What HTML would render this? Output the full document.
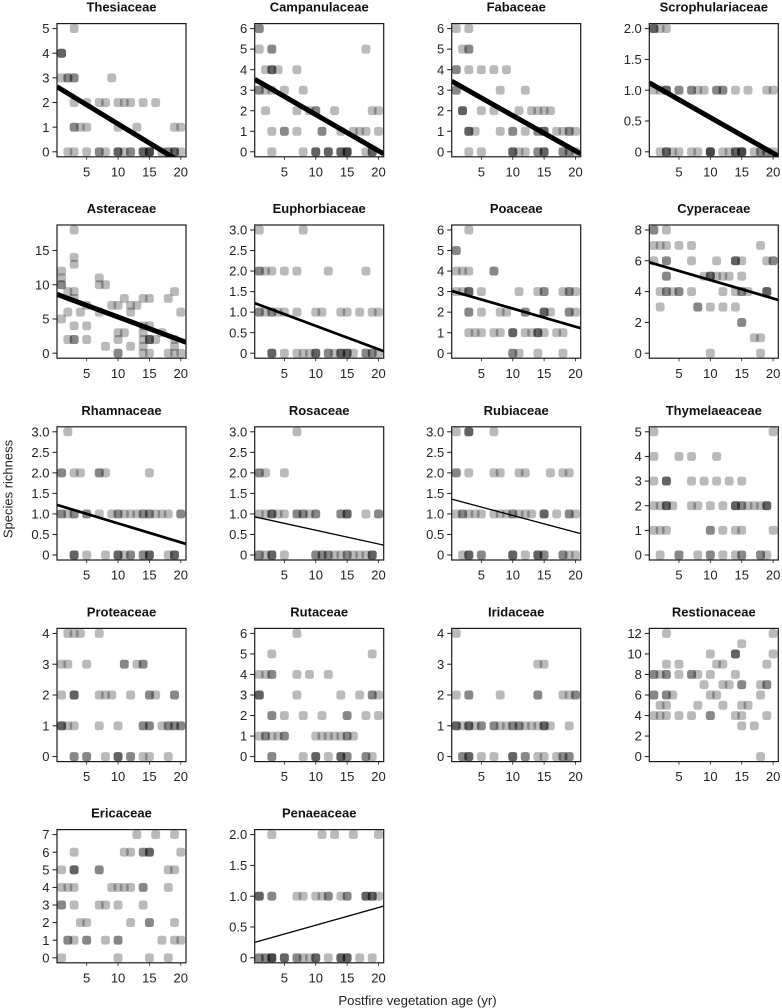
<!DOCTYPE html>
<html lang="en">
<head>
<meta charset="utf-8">
<title>Species richness by postfire vegetation age</title>
<style>
html,body{margin:0;padding:0;background:#fff;}
svg{display:block;font-family:"Liberation Sans",Arial,sans-serif;fill:#222;}
</style>
</head>
<body>
<svg id="chart" width="782" height="1008" viewBox="0 0 782 1008" xmlns="http://www.w3.org/2000/svg">
<text transform="translate(12.5 489) rotate(-90)" text-anchor="middle" font-size="13">Species richness</text>
<text x="417.5" y="1005" text-anchor="middle" font-size="13.2">Postfire vegetation age (yr)</text>
</svg>
<script>
// Panel titles
const families = ["Thesiaceae","Campanulaceae","Fabaceae","Scrophulariaceae","Asteraceae","Euphorbiaceae","Poaceae","Cyperaceae","Rhamnaceae","Rosaceae","Rubiaceae","Thymelaeaceae","Proteaceae","Rutaceae","Iridaceae","Restionaceae","Ericaceae","Penaeaceae"];

// Y-axis maximum of each panel
const yMaxima = [5,6,6,2,18,3,6,8,3,3,3,5,4,6,4,12,7,2];

// Y tick values of each panel
const yTickValues = [
 [0,1,2,3,4,5],[0,1,2,3,4,5,6],[0,1,2,3,4,5,6],[0,0.5,1,1.5,2],
 [0,5,10,15],[0,0.5,1,1.5,2,2.5,3],[0,1,2,3,4,5,6],[0,2,4,6,8],
 [0,0.5,1,1.5,2,2.5,3],[0,0.5,1,1.5,2,2.5,3],[0,0.5,1,1.5,2,2.5,3],[0,1,2,3,4,5],
 [0,1,2,3,4],[0,1,2,3,4,5,6],[0,1,2,3,4],[0,2,4,6,8,10,12],
 [0,1,2,3,4,5,6,7],[0,0.5,1,1.5,2]
];

// X tick values shared by all panels
const xTickValues = [5,10,15,20];

// Trend lines: fitted richness at the left and right edge of each panel (null = no trend)
const trendLeft  = [2.64,3.53,3.44,1.12,8.6,1.22,3.03,5.9,1.22,0.93,1.36,null,null,null,null,null,null,0.25];
const trendRight = [-0.55,-0.1,-0.1,-0.07,1.6,0.05,1.22,3.46,0.27,0.24,0.52,null,null,null,null,null,null,0.84];

// Trend line weight class: 3 = strongest, 1 = weakest
const trendWeight = [3,3,3,3,3,2,2,2,2,1,1,0,0,0,0,0,0,1];

// Sites per family: index = species richness, entries = vegetation age of each site (repeats = overlapping sites)
const thesiaceaeSites = [
 [2,3,5,7,7,8,10,10,10,11,12,12,14,14,14,15,15,15,15,17,18,18,19,19,19,20],
 [3,3,4,5,10,13,19,20],
 [3,5,7,8,10,11,12,14,16],
 [1,2,2,3,3,9],
 [1,1,1],
 [3]];
const campanulaceaeSites = [
 [3,8,10,10,10,12,12,12,14,14,14,15,15,15,15,18,19,19,19],
 [3,5,5,7,11,11,14,16,17,18,20],
 [2,7,9,10,10,13,19,20],
 [1,1,2,3,5,8],
 [2,3,3,3,4,7],
 [1,3,3,18],
 [1,1]];
const fabaceaeSites = [
 [3,5,10,10,10,11,12,14,14,15,15,15,18,18,19,19,20],
 [3,3,3,4,8,10,10,12,14,14,15,15,15,17,18,19,19,20],
 [2,2,2,5,7,11,13,14,15,16],
 [1,1,8,12],
 [1,1,3,5,7,9],
 [2,3,3],
 [1,3]];
const scrophulariaceaeSites = [
 [2,3,3,3,4,5,7,8,10,10,10,10,12,13,14,14,14,15,15,15,15,17,18,18,19,19,20],
 [1,2,3,3,3,5,5,7,7,8,9,11,11,12,12,14,16,19,20],
 [1,1,1,2,3]];
const asteraceaeSites = [
 [10,10,14,15,18,19,20],
 [8,12,14,19],
 [2,3,3,5,10,14,15,15,15,16,19],
 [10,11,14,17],
 [3,5,14,15],
 [1],
 [2,4,7,12,20],
 [5,9,10,12,13],
 [3,11,14,15,18],
 [2,3,19],
 [1,1,7,8],
 [1,7],
 [1],
 [3],
 [3],
 [],[],[],
 [3]];
const euphorbiaceaeSites = [
 [3,3,3,5,7,8,9,10,10,10,12,12,13,14,14,14,15,15,15,16,18,18,19,19,20],
 [1,1,2,3,3,4,5,7,10,11,14,15,17,19,20],
 [1,1,2,3,5,7,12,18],
 [1,8]];
const poaceaeSites = [
 [10,10,11,14,18],
 [3,4,5,7,8,10,10,10,12,13,14,14,14,15,17,18],
 [3,3,5,8,9,12,12,15,15,15,16,19,19,20],
 [1,2,3,3,3,5,11,14,15,15,18,19,19,20],
 [1,2,3,7,7],
 [1,1],
 [3]];
const cyperaceaeSites = [
 [10,18],
 [17,18],
 [15,15],
 [2,8,8,10,12,14],
 [2,3,3,4,5,5,7,12,14,15,15,16,19,19,19],
 [3,3,9,10,10,10,11,12,13,15],
 [1,3,3,7,11,14,14,14,15,19,20,20],
 [1,2,3,5,7,18],
 [1,1,3]];
const rhamnaceaeSites = [
 [3,3,3,5,8,10,10,10,11,12,12,14,14,15,15,15,18,19,19,19],
 [1,1,2,3,3,5,5,7,9,10,10,11,12,13,14,14,15,15,16,17,18,20,20],
 [1,1,3,4,7,7,8,15],
 [2]];
const rosaceaeSites = [
 [1,1,2,3,3,3,5,10,10,11,11,12,12,13,14,15,15,16,17,18,19,19,19],
 [1,2,3,3,3,4,5,7,7,8,8,9,10,10,14,14,15,15,15,18,20,20],
 [1,1,2,5],
 [7]];
const rubiaceaeSites = [
 [2,3,3,3,5,5,10,10,10,12,14,14,14,15,15,18,18,19,20],
 [1,2,2,3,4,5,7,8,9,10,10,11,12,13,15,15,15,17,19,19,20],
 [1,1,3,7,8,11,12,16,18,19],
 [1,3,3,3,7]];
const thymelaeaceaeSites = [
 [2,5,5,8,10,10,12,14,15,15,18,18,19],
 [1,2,3,10,10,12,14,15,20],
 [1,2,3,3,3,4,7,8,10,12,14,14,14,15,15,16,17,18,19,19,19],
 [1,3,3,3,7,9,11,13,15],
 [1,5,7,11],
 [1,20]];
const proteaceaeSites = [
 [3,3,5,5,8,10,10,10,12,12,14,15,18],
 [1,1,1,2,3,7,10,14,14,15,15,17,18,18,19,19,20,20],
 [1,3,3,3,7,8,9,12,15,15,16,19,19],
 [1,2,5,11,11,13,14,14],
 [2,3,4,7]];
const rutaceaeSites = [
 [3,3,8,10,10,10,12,14,14,14,15,15,18,18,19],
 [1,2,2,3,4,5,5,10,11,12,13,14,15,15,16],
 [3,3,5,8,11,15,15,18,20],
 [1,1,1,7,14,17,19,19,20],
 [1,2,3,3,7,9,12],
 [3,19],
 [7]];
const iridaceaeSites = [
 [2,2,3,3,3,5,7,10,10,10,12,12,14,15,17,18,18,19,19],
 [1,1,1,2,3,3,3,4,5,5,7,7,8,9,10,10,11,11,12,13,14,15,15,15,16,19],
 [1,3,3,8,14,14,18,19,20,20],
 [14,15],
 [1]];
const restionaceaeSites = [
 [18],
 [],
 [],
 [15,17],
 [1,2,3,5,7,10,10,14,15,19],
 [2,3,8,12,15,16],
 [1,1,3,3,4,10,11,18],
 [9,12,13,15,15,18,19,19],
 [1,1,2,3,3,5,7,7,8,10,14],
 [3,5,11,12,19],
 [10,14,14,14,20],
 [15],
 [3,20]];
const ericaceaeSites = [
 [1,10,15,18],
 [2,2,3,5,5,8,10,10,17,19,20],
 [4,5,12,15,15,19],
 [1,1,3,7,8,10,14],
 [1,2,3,9,10,11,12,14,14,18],
 [1,3,3,3,7,7,18,19],
 [3,11,12,14,14,15,15,15,20],
 [13,16,19]];
const penaeaceaeSites = [
 [1,1,2,2,3,3,3,3,5,5,5,7,7,8,9,10,10,10,12,14,14,14,15,15,15,17,19],
 [1,1,1,3,3,7,8,10,11,12,12,14,15,15,18,18,18,19,19,19,20],
 [3,11,13,16,20]];

const allSites = [thesiaceaeSites,campanulaceaeSites,fabaceaeSites,scrophulariaceaeSites,asteraceaeSites,euphorbiaceaeSites,poaceaeSites,cyperaceaeSites,rhamnaceaeSites,rosaceaeSites,rubiaceaeSites,thymelaeaceaeSites,proteaceaeSites,rutaceaeSites,iridaceaeSites,restionaceaeSites,ericaceaeSites,penaeaceaeSites];

// Layout
const NS = "http://www.w3.org/2000/svg";
const svg = document.getElementById("chart");
const colLefts = [57, 254.7, 451.7, 649.3];
const rowTops = [23.6, 225, 426.8, 628.4, 829.6];
const panelW = 129, panelH = 133.2, inset = 5;
const xMin = 0.27, xMax = 20.83;
const pointSize = 8.9;
const lineWidths = [0, 1.3, 2.7, 5];

function make(tag, attrs, parent) {
  const el = document.createElementNS(NS, tag);
  for (const k in attrs) el.setAttribute(k, attrs[k]);
  parent.appendChild(el);
  return el;
}
function slug(s) { return s.toLowerCase(); }

const defs = make("defs", {}, svg);

families.forEach(function (name, i) {
  const left = colLefts[i % 4];
  const top = rowTops[Math.floor(i / 4)];
  const bottom = top + panelH;
  const xScale = function (v) { return left + (v - xMin) / (xMax - xMin) * panelW; };
  const yScale = function (v) { return bottom - inset - v / yMaxima[i] * (panelH - 2 * inset); };

  const group = make("g", {}, svg);
  
  

  const clip = make("clipPath", { id: "clip" + i }, defs);
  make("rect", { x: left, y: top, width: panelW, height: panelH }, clip);

  const title = make("text", { x: left + panelW / 2, y: top - 12, "text-anchor": "middle", "font-size": 13, "font-weight": "bold", fill: "#111" }, group);
  
  
  title.textContent = name;

  const marks = make("g", { "clip-path": "url(#clip" + i + ")" }, group);
  
  

  allSites[i].forEach(function (ages, richness) {
    ages.forEach(function (age) {
      const pt = make("rect", {
        x: xScale(age) - pointSize / 2,
        y: yScale(richness) - pointSize / 2,
        width: pointSize, height: pointSize, rx: 2.6, ry: 2.6,
        fill: "#000", "fill-opacity": 0.27
      }, marks);
      
      
    });
  });

  if (trendLeft[i] !== null) {
    const trend = make("line", {
      x1: left, y1: yScale(trendLeft[i]),
      x2: left + panelW, y2: yScale(trendRight[i]),
      stroke: "#000", "stroke-width": lineWidths[trendWeight[i]]
    }, marks);
    
    
  }

  const frame = make("rect", { x: left, y: top, width: panelW, height: panelH, fill: "none", stroke: "#1a1a1a", "stroke-width": 1.2 }, group);
  
  

  yTickValues[i].forEach(function (v) {
    const y = yScale(v);
    const tick = make("line", { x1: left - 4.5, x2: left, y1: y, y2: y, stroke: "#1a1a1a", "stroke-width": 1 }, group);
    
    
    const label = make("text", { x: left - 7.5, y: y + 4.6, "text-anchor": "end", "font-size": 13 }, group);
    
    
    label.textContent = (yMaxima[i] <= 3 && v !== 0) ? v.toFixed(1) : String(v);
  });

  xTickValues.forEach(function (v) {
    const x = xScale(v);
    const tick = make("line", { x1: x, x2: x, y1: bottom, y2: bottom + 3, stroke: "#1a1a1a", "stroke-width": 0.8 }, group);
    
    
    const label = make("text", { x: x, y: bottom + 19.6, "text-anchor": "middle", "font-size": 13 }, group);
    
    
    label.textContent = String(v);
  });
});
</script>
</body>
</html>
